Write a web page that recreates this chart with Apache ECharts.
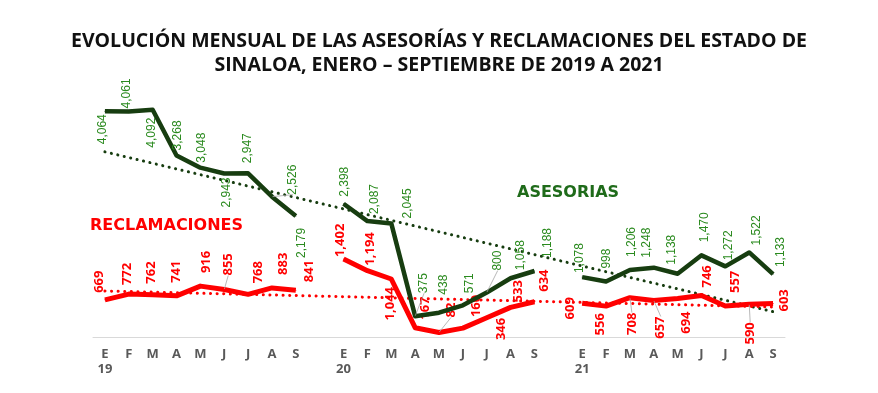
<!DOCTYPE html>
<html><head><meta charset="utf-8">
<script src="https://cdn.jsdelivr.net/npm/echarts@6/dist/echarts.min.js"></script>
<style>html,body{margin:0;padding:0;background:#fff}#c{width:878px;height:393px}</style>
</head><body><div id="c"></div>
<script>
// ---- data ----
const months = ['E','F','M','A','M','J','J','A','S'];
const years = ['19','20','21'];
const asesorias2019 = [4064,4061,4092,3268,3048,2943,2947,2526,2179];
const asesorias2020 = [2398,2087,2045,375,438,571,800,1058,1188];
const asesorias2021 = [1078,998,1206,1248,1138,1470,1272,1522,1133];
const reclamaciones2019 = [669,772,762,741,916,855,768,883,841];
const reclamaciones2020 = [1402,1194,1044,167,82,160,346,533,634];
const reclamaciones2021 = [609,556,708,657,694,746,557,590,603];

// ---- label placement styles (side, dx, dy in screen px, leader line) ----
const asesLab = [
 ['d',-2,3],['u',-2,-3],['d',-1,8],['u',1,-5],['u',1,-5],['d',2,4],['u',0,-10],['u',21,-2,1],['d',6,12],
 ['u',1,-7],['u',7,-7],['u',16,-5],['u',9,-23,1],['u',5,-18],['u',7,-12],['u',11,-22,1],['u',10,-8],['u',13,-13],
 ['u',-2,-4],['u',1,-13],['u',2,-13],['u',-7,-10],['u',-6,-9],['u',3,-13],['u',3,-6],['u',7,-7],['u',8,-7]
];
const reclLab = [
 ['u',-6,-7],['u',-1,-9],['u',-1,-11],['u',0,-13],['u',6,-13],['u',4,-14,1],['u',10,-11],['u',11,-13],['u',13,-8],
 ['u',-3,-2],['u',3,-5],['d',-1,8],['u',10,-8],['u',12,-15,1],['u',13,-11],['d',15,0],['u',8,-5],['u',10,-10],
 ['d',-12,-6],['d',-6,7],['d',2,15,1],['d',7,16,1],['d',9,13],['u',6,-8],['u',10,-13],['d',1,18,1],['u',11,8]
];

const GREEN_LINE = '#173d10', GREEN_TXT = '#2a8a1e', RED = '#ff0000';

const cats = [], catLabels = [];
const groupsA = [asesorias2019, asesorias2020, asesorias2021];
const groupsR = [reclamaciones2019, reclamaciones2020, reclamaciones2021];
const dataA = [], dataR = [];
function lab(spec, color, bold, size) {
  const [side, dx, dy] = spec;
  return {
    show: true, position: 'inside', rotate: 90,
    align: side === 'u' ? 'left' : 'right', verticalAlign: 'middle',
    offset: [-dy, dx],
    color: color, fontSize: size, fontWeight: bold ? 'bold' : 'normal',
    fontFamily: bold ? 'Open Sans' : 'Liberation Sans',
    formatter: p => Number(p.value).toLocaleString('en-US')
  };
}
function item(v, spec, color, bold, size) {
  const o = { value: v, label: lab(spec, color, bold, size) };
  if (spec[3]) o.labelLine = { show: true, lineStyle: { color: '#a6a6a6', width: 0.8 } };
  return o;
}
let k = 0;
years.forEach((y, gi) => {
  months.forEach((m, mi) => {
    cats.push(y + '-' + mi);
    catLabels.push(mi === 0 ? m + '\n' + y : m);
    dataA.push(item(groupsA[gi][mi], asesLab[k], GREEN_TXT, false, 12));
    dataR.push(item(groupsR[gi][mi], reclLab[k], RED, true, 13));
    k++;
  });
  if (gi < years.length - 1) { cats.push('gap' + gi); catLabels.push(''); dataA.push(null); dataR.push(null); }
});

// linear trend (least squares over category index)
function trend(data) {
  const pts = [];
  data.forEach((d, i) => { if (d) pts.push([i, d.value]); });
  const n = pts.length;
  const mx = pts.reduce((s, p) => s + p[0], 0) / n;
  const my = pts.reduce((s, p) => s + p[1], 0) / n;
  let sxy = 0, sxx = 0;
  pts.forEach(p => { sxy += (p[0] - mx) * (p[1] - my); sxx += (p[0] - mx) ** 2; });
  const b = sxy / sxx, a = my - b * mx;
  return data.map((d, i) => a + b * i);
}

const chart = echarts.init(document.getElementById('c'), null, { renderer: 'canvas' });
chart.setOption({
  animation: false,
  backgroundColor: '#fff',
  title: {
    text: 'EVOLUCIÓN MENSUAL DE LAS ASESORÍAS Y RECLAMACIONES DEL ESTADO DE\nSINALOA, ENERO – SEPTIEMBRE DE 2019 A 2021',
    left: 'center', top: 24,
    textStyle: { fontFamily: 'Open Sans', fontWeight: 'bold', fontSize: 19.5, lineHeight: 24, color: '#111', align: 'center' }
  },
  grid: { left: 93, right: 93, top: 87, bottom: 56 },
  xAxis: {
    type: 'category', data: cats, boundaryGap: true,
    axisLine: { lineStyle: { color: '#d9d9d9', width: 1 } },
    axisTick: { show: false },
    axisLabel: {
      interval: 0, margin: 10, color: '#595959', fontFamily: 'Open Sans', fontWeight: 'bold', fontSize: 13, lineHeight: 15,
      formatter: (v, i) => catLabels[i]
    }
  },
  yAxis: { type: 'value', min: 0, max: 4500, show: false, splitLine: { show: false } },
  series: [
    { name: 'Tendencia asesorías', type: 'line', data: trend(dataA), symbol: 'none', silent: true,
      lineStyle: { color: GREEN_LINE, width: 3, type: [0.1, 6.5], cap: 'round' }, z: 1 },
    { name: 'Tendencia reclamaciones', type: 'line', data: trend(dataR), symbol: 'none', silent: true,
      lineStyle: { color: RED, width: 3, type: [0.1, 6.5], cap: 'round' }, z: 1 },
    { name: 'ASESORIAS', type: 'line', data: dataA, connectNulls: false, symbol: 'circle', symbolSize: 1,
      itemStyle: { color: GREEN_LINE }, lineStyle: { color: GREEN_LINE, width: 4.5, join: 'round' }, z: 3 },
    { name: 'RECLAMACIONES', type: 'line', data: dataR, connectNulls: false, symbol: 'circle', symbolSize: 1,
      itemStyle: { color: RED }, lineStyle: { color: RED, width: 5, join: 'round' }, z: 2 }
  ],
  graphic: [
    { type: 'text', left: 517, top: 185, style: { text: 'ASESORIAS', fill: '#1f6b1a', font: 'bold 16px "DejaVu Sans"' } },
    { type: 'text', left: 90, top: 218, style: { text: 'RECLAMACIONES', fill: RED, font: 'bold 16px "DejaVu Sans"' } }
  ]
});
</script></body></html>
